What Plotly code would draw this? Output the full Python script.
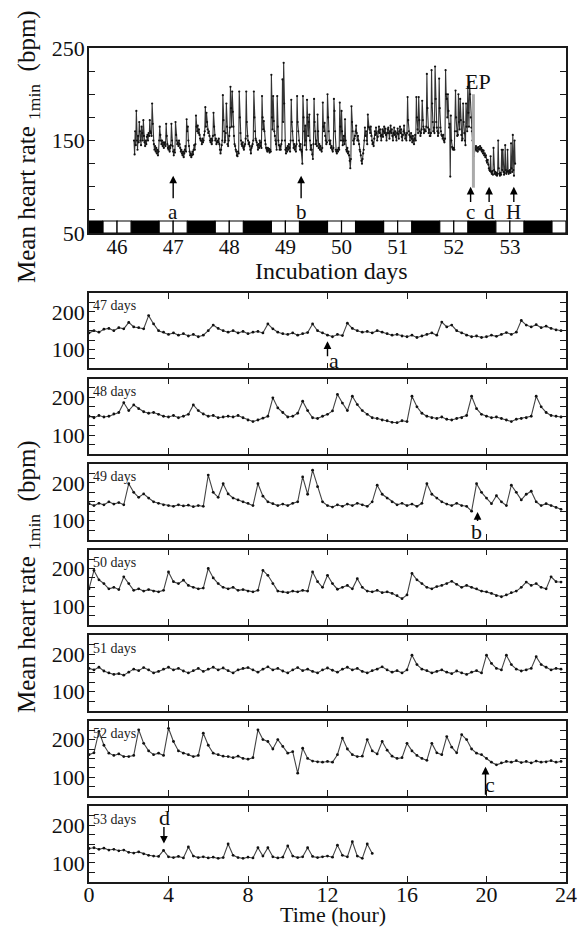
import plotly.graph_objects as go

# ---------------- data (bpm, one value every 15 min) ----------------
sample_step_h = 0.25
panel_days = [47, 48, 49, 50, 51, 52, 53]

# tail of day 46 (only in the overview panel), starting at 19.25 h
pre46_start_h = 19.25
pre46 = [150, 135, 160, 145, 182, 150, 140, 155, 148, 170, 160, 150, 145, 165, 158, 150, 172, 155, 148]

day47 = [144, 150, 146, 154, 156, 150, 158, 155, 172, 160, 158, 155, 190, 168, 150, 146,
         140, 144, 138, 142, 136, 140, 134, 138, 150, 165, 156, 150, 146, 150, 144, 148,
         142, 146, 148, 144, 168, 155, 146, 142, 140, 144, 138, 142, 145, 168, 150, 144,
         138, 134, 140, 137, 170, 156, 150, 146, 148, 144, 150, 146, 142, 138, 140, 136,
         134, 138, 132, 136, 140, 144, 138, 173, 160, 165, 150, 144, 138, 134, 136, 132,
         134, 138, 135, 140, 145, 140, 146, 177, 165, 160, 166, 158, 162, 156, 152, 150]
day48 = [150, 146, 152, 148, 150, 156, 160, 186, 165, 180, 170, 162, 158, 160, 155, 150,
         148, 152, 146, 150, 155, 180, 165, 156, 150, 152, 146, 148, 150, 148, 152, 146,
         140, 136, 140, 145, 150, 199, 172, 160, 148, 150, 158, 190, 165, 146, 144, 150,
         155, 164, 208, 185, 165, 203, 181, 165, 155, 146, 144, 140, 138, 134, 133, 138,
         136, 203, 175, 158, 150, 146, 144, 148, 142, 140, 144, 146, 152, 203, 170, 155,
         150, 146, 148, 144, 140, 136, 142, 144, 146, 150, 203, 175, 160, 152, 150, 148]
day49 = [145, 140, 146, 142, 150, 144, 148, 142, 198, 175, 162, 171, 160, 150, 146, 142,
         140, 138, 142, 139, 141, 137, 140, 138, 221, 175, 162, 198, 171, 160, 155, 150,
         146, 140, 198, 165, 150, 145, 140, 144, 140, 146, 150, 216, 170, 234, 190, 150,
         140, 136, 142, 138, 144, 140, 146, 142, 138, 150, 194, 170, 160, 150, 142, 146,
         140, 144, 138, 146, 198, 170, 160, 150, 144, 140, 146, 140, 138, 125, 198, 175,
         160, 145, 166, 150, 140, 194, 175, 155, 170, 178, 150, 140, 145, 140, 135, 130]
day50 = [146, 195, 170, 160, 146, 150, 144, 178, 160, 142, 146, 140, 144, 140, 138, 142,
         191, 165, 160, 169, 155, 150, 146, 148, 200, 175, 160, 150, 146, 150, 142, 144,
         140, 138, 142, 195, 182, 160, 140, 138, 136, 140, 138, 142, 140, 191, 165, 150,
         182, 160, 145, 150, 155, 146, 173, 150, 140, 138, 142, 136, 138, 134, 128, 120,
         130, 187, 170, 160, 150, 146, 152, 155, 160, 166, 158, 150, 155, 150, 146, 140,
         138, 134, 128, 125, 130, 136, 140, 150, 164, 155, 160, 150, 146, 178, 165, 164]
day51 = [162, 158, 165, 155, 150, 146, 148, 144, 152, 160, 156, 164, 158, 150, 154, 160,
         165, 158, 162, 155, 150, 156, 162, 154, 160, 165, 158, 163, 156, 150, 158, 162,
         164, 158, 152, 160, 166, 158, 162, 155, 150, 158, 164, 156, 160, 154, 150, 158,
         163, 157, 152, 160, 165, 158, 162, 154, 150, 156, 160, 166, 158, 152, 156, 150,
         158, 197, 172, 160, 156, 150, 154, 158, 152, 148, 155, 150, 146, 152, 156, 150,
         197, 175, 162, 158, 197, 172, 160, 155, 158, 162, 193, 172, 165, 158, 162, 160]
day52 = [160, 165, 222, 185, 164, 158, 162, 155, 155, 158, 226, 190, 170, 160, 164, 158,
         230, 195, 170, 164, 160, 155, 158, 217, 185, 164, 160, 156, 155, 152, 156, 150,
         148, 152, 226, 200, 195, 175, 200, 182, 164, 168, 111, 177, 150, 143, 141, 140,
         142, 140, 160, 204, 175, 160, 155, 156, 200, 170, 162, 195, 172, 156, 150, 152,
         190, 170, 158, 150, 145, 190, 165, 160, 208, 180, 165, 213, 200, 175, 164, 160,
         150, 140, 133, 138, 142, 140, 144, 139, 142, 138, 143, 140, 141, 144, 140, 142]
day53 = [138, 140, 136, 139, 134, 136, 132, 134, 128, 126, 129, 124, 120, 118, 117, 133,
         116, 114, 117, 113, 142, 118, 114, 116, 113, 115, 112, 114, 150, 120, 114, 112,
         115, 113, 140, 118, 140, 116, 113, 115, 145, 118, 114, 116, 140, 117, 114, 116,
         118, 115, 147, 120, 116, 156, 118, 112, 150, 125]

panel_series = [day47, day48, day49, day50, day51, day52, day53]

# light/dark schedule in incubation days
dark_periods = [(45.5, 45.75), (46.25, 46.75), (47.25, 47.75), (48.25, 48.75), (49.25, 49.75),
                (50.25, 50.75), (51.25, 51.75), (52.25, 52.75), (53.25, 53.75)]
light_periods = [(45.75, 46.0), (46.0, 46.25), (46.75, 47.0), (47.0, 47.25), (47.75, 48.0),
                 (48.0, 48.25), (48.75, 49.0), (49.0, 49.25), (49.75, 50.0), (50.0, 50.25),
                 (50.75, 51.0), (51.0, 51.25), (51.75, 52.0), (52.0, 52.25), (52.75, 53.0),
                 (53.0, 53.25), (53.75, 54.0)]

# events in the overview panel (day, label)
top_events = [(47.0, "a"), (49.28, "b"), (52.30, "c"), (52.63, "d"), (53.07, "H")]
ep_day = 52.35

# ---------------- figure ----------------
W, H = 587, 929
L, R = 89, 566
FONT = "Liberation Serif"
FRAME = "#1a1a1a"

fig = go.Figure()


def ydom(top_px, bot_px):
    return [1 - bot_px / H, 1 - top_px / H]


# overview series
top_x, top_y = [], []
for k, v in enumerate(pre46):
    top_x.append(45.5 + (pre46_start_h + k * sample_step_h) / 24.0)
    top_y.append(v)
for d, s in zip(panel_days, panel_series):
    for k, v in enumerate(s):
        top_x.append(d - 0.5 + k * sample_step_h / 24.0)
        top_y.append(v)

fig.add_trace(go.Scatter(x=top_x, y=top_y, mode="lines+markers",
                         line=dict(color="#333", width=1.1),
                         marker=dict(color="#111", size=2.2),
                         xaxis="x", yaxis="y", showlegend=False, hoverinfo="skip"))

common_axis = dict(showgrid=False, zeroline=False, automargin=False, showline=True,
                   linecolor=FRAME, linewidth=1.5, tickcolor=FRAME, tickwidth=1.2)

fig.update_layout(
    template="none",
    xaxis=dict(domain=[L / W, R / W], range=[45.5, 54.0], tickvals=list(range(46, 54)),
               ticks="", mirror=True, anchor="y", ticklabelstandoff=-6,
               tickfont=dict(family=FONT, size=21, color="#111"), **common_axis),
    yaxis=dict(domain=ydom(48, 233), range=[50, 250], tickvals=list(range(50, 251, 25)),
               ticktext=["50", "", "", "", "150", "", "", "", "250"],
               ticks="inside", ticklen=6, mirror="ticks", anchor="x", ticklabelstandoff=-2,
               tickfont=dict(family=FONT, size=22, color="#111"), **common_axis),
)

# light/dark bar
shapes = []
for x0, x1 in dark_periods:
    shapes.append(dict(type="rect", xref="x", yref="y", x0=x0, x1=x1, y0=50, y1=63,
                       fillcolor="black", line=dict(color="black", width=1)))
for x0, x1 in light_periods:
    shapes.append(dict(type="rect", xref="x", yref="y", x0=x0, x1=x1, y0=50, y1=63,
                       fillcolor="white", line=dict(color="black", width=1.2)))
# EP grey bar
shapes.append(dict(type="line", xref="x", yref="y", x0=ep_day, x1=ep_day, y0=99, y1=200,
                   line=dict(color="#aaaaaa", width=3)))

annotations = []
for xd, lab in top_events:
    if lab in ("a", "b"):
        head, tail = 112, 86
    else:
        head, tail = 100, 82
    annotations.append(dict(x=xd, y=head, ax=xd, ay=tail, xref="x", yref="y", axref="x", ayref="y",
                            showarrow=True, arrowhead=2, arrowsize=1.1, arrowwidth=1.4,
                            arrowcolor="black", text=""))
    annotations.append(dict(x=xd, y=73, xref="x", yref="y", text=lab, showarrow=False,
                            font=dict(family=FONT, size=21, color="#111")))
annotations.append(dict(x=52.43, y=214, xref="x", yref="y", text="EP", showarrow=False,
                        font=dict(family=FONT, size=22, color="#111")))

# daily panels
panel_top0 = 293.0
panel_pitch = 85.55
panel_h = 75.4
for i, (d, s) in enumerate(zip(panel_days, panel_series)):
    n = i + 2
    xs = [k * sample_step_h for k in range(len(s))]
    fig.add_trace(go.Scatter(x=xs, y=s, mode="lines+markers",
                             line=dict(color="#444", width=1.1),
                             marker=dict(color="#111", size=2.8),
                             xaxis=f"x{n}", yaxis=f"y{n}", showlegend=False, hoverinfo="skip"))
    top = panel_top0 + i * panel_pitch
    last = (i == len(panel_days) - 1)
    fig.layout[f"xaxis{n}"] = dict(domain=[L / W, R / W], range=[0, 24], tickvals=list(range(0, 25, 4)),
                                   ticks="inside", ticklen=6, mirror="ticks",
                                   showticklabels=last, anchor=f"y{n}", ticklabelstandoff=-8,
                                   tickfont=dict(family=FONT, size=22, color="#111"), **common_axis)
    fig.layout[f"yaxis{n}"] = dict(domain=ydom(top, top + panel_h), range=[50, 250],
                                   tickvals=list(range(50, 251, 25)),
                                   ticktext=["", "", "100", "", "", "", "200", "", ""],
                                   ticks="inside", ticklen=6, mirror="ticks", ticklabelstandoff=-2,
                                   anchor=f"x{n}", tickfont=dict(family=FONT, size=22, color="#111"),
                                   **common_axis)
    annotations.append(dict(x=0.1, y=216, xref=f"x{n}", yref=f"y{n}", text=f"{d} days",
                            showarrow=False, xanchor="left", yanchor="middle",
                            font=dict(family=FONT, size=14, color="#222")))

# arrows in daily panels
def panel_arrow(n, x, head, tail, lab, lx, ly):
    annotations.append(dict(x=x, y=head, ax=x, ay=tail, xref=f"x{n}", yref=f"y{n}",
                            axref=f"x{n}", ayref=f"y{n}", showarrow=True, arrowhead=2,
                            arrowsize=1.1, arrowwidth=1.4, arrowcolor="black", text=""))
    annotations.append(dict(x=lx, y=ly, xref=f"x{n}", yref=f"y{n}", text=lab, showarrow=False,
                            font=dict(family=FONT, size=22, color="#111")))

panel_arrow(2, 12.0, 122, 78, "a", 12.35, 70)
panel_arrow(4, 19.55, 123, 95, "b", 19.5, 71)
panel_arrow(7, 19.95, 128, 50, "c", 20.2, 80)
panel_arrow(8, 3.77, 151, 199, "d", 3.8, 220)

# axis titles
ytitle = "Mean heart rate <sub>1min</sub>  (bpm)"
annotations.append(dict(x=28 / W, y=1 - 147 / H, xref="paper", yref="paper", text=ytitle,
                        textangle=-90, showarrow=False, xanchor="center", yanchor="middle",
                        font=dict(family=FONT, size=25, color="#111")))
annotations.append(dict(x=28 / W, y=1 - 577 / H, xref="paper", yref="paper", text=ytitle,
                        textangle=-90, showarrow=False, xanchor="center", yanchor="middle",
                        font=dict(family=FONT, size=25, color="#111")))
annotations.append(dict(x=331 / W, y=1 - 271 / H, xref="paper", yref="paper", text="Incubation days",
                        showarrow=False, xanchor="center", yanchor="middle",
                        font=dict(family=FONT, size=24, color="#111")))
annotations.append(dict(x=333 / W, y=0.0, xref="paper", yref="paper", text="Time (hour)",
                        showarrow=False, xanchor="center", yanchor="bottom",
                        font=dict(family=FONT, size=22, color="#111")))

fig.update_layout(width=W, height=H, margin=dict(l=0, r=0, t=0, b=0, pad=0),
                  paper_bgcolor="white", plot_bgcolor="white",
                  shapes=shapes, annotations=annotations, showlegend=False)

fig.write_html("out.html", config={"displayModeBar": False},
               post_script="document.body.style.margin='0px';document.body.style.padding='0px';")
